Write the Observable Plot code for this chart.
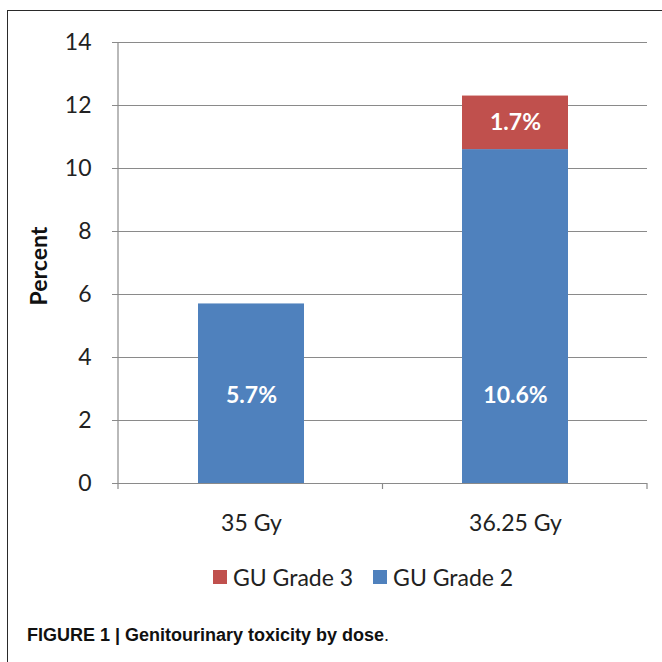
<!DOCTYPE html>
<html><head><meta charset="utf-8">
<script src="https://cdn.jsdelivr.net/npm/d3@7"></script>
<script src="https://cdn.jsdelivr.net/npm/@observablehq/plot@0.6"></script>
<style>
body{margin:0;background:#fff;}
#wrap{position:relative;width:662px;height:662px;overflow:hidden;font-family:Lato,sans-serif;background:#fff;}
#frame{position:absolute;left:7px;top:10px;width:700px;height:700px;border-left:1.5px solid #2a2a2a;border-top:1.5px solid #2a2a2a;}
#chart{position:absolute;left:0;top:0;}
#legend{position:absolute;top:563px;left:213px;display:flex;align-items:center;font-size:23px;color:#222;white-space:nowrap;}
#legend .item{display:flex;align-items:center;margin-right:20px;}
#legend .sw{width:14px;height:14px;margin-right:6px;}
#caption{position:absolute;left:27px;top:625px;font-family:"Liberation Sans",Arial,sans-serif;font-size:18px;font-weight:bold;color:#111;white-space:nowrap;}
#caption .dot{font-weight:normal;}
</style></head>
<body>
<div id="wrap">
  <div id="frame"></div>
  <div id="chart"></div>
  <div id="legend"></div>
  <div id="caption">FIGURE 1 | Genitourinary toxicity by dose<span class="dot">.</span></div>
</div>
<script>
// Data
const doses = ["35 Gy", "36.25 Gy"];
const grade2 = [5.7, 10.6];
const grade3 = [0, 1.7];
const seriesNames = ["GU Grade 2", "GU Grade 3"];
const legendOrder = ["GU Grade 3", "GU Grade 2"];
const seriesColors = ["#4F81BD", "#C0504D"];
const yTicks = [0, 2, 4, 6, 8, 10, 12, 14];

const rows = [];
doses.forEach((d, i) => {
  rows.push({dose: d, series: seriesNames[0], value: grade2[i]});
  rows.push({dose: d, series: seriesNames[1], value: grade3[i]});
});
const pct = r => r.value.toFixed(1) + "%";

const gridColor = "#8a8a8a";

const axisDecor = (index, scales, values, dimensions) => {
  const {width, height, marginLeft, marginRight, marginTop, marginBottom} = dimensions;
  const g = d3.create("svg:g").attr("stroke", gridColor).attr("stroke-width", 1.2);
  const y0 = height - marginBottom;
  const n = doses.length;
  const step = (width - marginLeft - marginRight) / n;
  g.append("line").attr("x1", marginLeft).attr("x2", marginLeft).attr("y1", marginTop).attr("y2", y0);
  for (let i = 0; i <= n; i++) {
    const x = marginLeft + i * step;
    g.append("line").attr("x1", x).attr("x2", x).attr("y1", y0).attr("y2", y0 + 6);
  }
  return g.node();
};

const chart = Plot.plot({
  width: 662,
  height: 550,
  marginLeft: 118,
  marginRight: 15,
  marginTop: 42,
  marginBottom: 67,
  style: {fontFamily: "Lato, sans-serif", fontSize: "23px", color: "#222", background: "transparent"},
  x: {domain: doses, paddingInner: 0.6, paddingOuter: 0.3, label: null, tickSize: 0, tickPadding: 31},
  y: {domain: [0, 14], ticks: yTicks, label: null, tickSize: 0, tickPadding: 27},
  color: {domain: seriesNames, range: seriesColors},
  marks: [
    Plot.ruleY(yTicks, {stroke: gridColor, strokeWidth: 1.2, insetLeft: -6}),
    Plot.barY(rows, {x: "dose", y: "value", fill: "series", z: "series", order: seriesNames}),
    axisDecor,
    // Grade 2 labels sit low in the bar, as in the reference
    Plot.text(rows, {
      x: "dose", y: () => 2.8,
      text: r => (r.series === seriesNames[0] && r.value > 0) ? pct(r) : "",
      fill: "white", fontWeight: "bold", fontSize: 23
    }),
    // Grade 3 labels at the middle of their stacked segment
    Plot.text(rows, Plot.stackY({
      x: "dose", y: "value", z: "series", order: seriesNames,
      text: r => (r.series === seriesNames[1] && r.value > 0) ? pct(r) : "",
      fill: "white", fontWeight: "bold", fontSize: 23
    }))
  ]
});
document.getElementById("chart").appendChild(chart);

// y axis title
const svg = d3.select(chart);
svg.append("text")
  .attr("transform", "translate(38,266) rotate(-90)")
  .attr("text-anchor", "middle")
  .attr("dominant-baseline", "central")
  .attr("font-family", "Lato, sans-serif")
  .attr("font-weight", "bold")
  .attr("font-size", 23)
  .attr("fill", "#111")
  .text("Percent");

// legend
const leg = document.getElementById("legend");
legendOrder.forEach(name => {
  const item = document.createElement("div");
  item.className = "item";
  const sw = document.createElement("div");
  sw.className = "sw";
  sw.style.background = seriesColors[seriesNames.indexOf(name)];
  const t = document.createElement("span");
  t.textContent = name;
  item.appendChild(sw); item.appendChild(t);
  leg.appendChild(item);
});
</script>
</body></html>
